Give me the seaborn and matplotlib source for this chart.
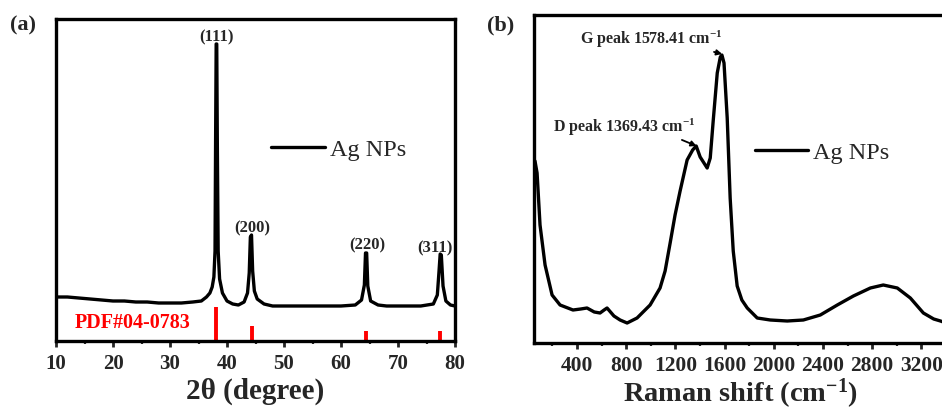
import matplotlib
matplotlib.use("Agg")
import matplotlib.pyplot as plt
import seaborn as sns
from matplotlib.ticker import MultipleLocator

# ---------------- data ----------------
# (a) XRD pattern
two_theta = [10, 12, 14, 16, 18, 20, 22, 24, 26, 28, 30, 32, 34, 35.5, 36.4, 37.0, 37.4, 37.7,
             37.9, 38.0, 38.1, 38.2, 38.3, 38.45, 38.7, 39.2, 40.0, 41.0, 42.0, 43.0, 43.6,
             43.9, 44.1, 44.3, 44.5, 44.8, 45.3, 46.5, 48, 50, 52, 55, 58, 60, 62.5, 63.6, 64.1,
             64.3, 64.5, 64.7, 65.2, 66.5, 68, 70, 72, 74, 76.2, 76.9, 77.2, 77.4, 77.6, 77.9,
             78.4, 79.2, 80]
xrd_int = [44, 44, 43, 42, 41, 40, 40, 39, 39, 38, 38, 38, 39, 40, 44, 48, 54, 64,
           90, 200, 297, 297, 200, 90, 62, 48, 40, 37, 36, 39, 48,
           68, 104, 106, 70, 50, 42, 37, 35, 35, 35, 35, 35, 35, 36, 41, 56,
           88, 88, 55, 40, 36, 35, 35, 35, 35, 37, 46, 70, 87, 86, 55,
           40, 36, 35]
ref_pos = [38.1, 44.3, 64.4, 77.4]
ref_height = [34, 15, 10, 10]
hkl_labels = ["(111)", "(200)", "(220)", "(311)"]
hkl_x = [38.1, 44.4, 64.7, 76.5]
hkl_y = [305, 114, 97, 94]

# (b) Raman spectrum
raman_shift = [58, 75, 99, 140, 197, 262, 367, 430, 481, 540, 587, 620, 644, 700, 750, 807,
               888, 994, 1075, 1116, 1157, 1197, 1238, 1295, 1340, 1369, 1401, 1458, 1483,
               1507, 1540, 1565, 1578, 1595, 1621, 1645, 1670, 1702, 1740, 1784, 1865, 1971,
               2109, 2240, 2378, 2516, 2647, 2785, 2890, 3004, 3110, 3216, 3300, 3355, 3400]
raman_int = [182, 170, 118, 78, 48, 38, 33, 34, 35, 31, 30, 33, 35, 27, 23, 20,
             25, 38, 55, 72, 100, 128, 152, 183, 193, 197, 186, 175, 185,
             222, 270, 286, 288, 280, 225, 145, 92, 57, 43, 35, 25, 23,
             22, 23, 28, 38, 47, 55, 58, 55, 45, 30, 24, 22, 20]
raman_ticks = [400, 800, 1200, 1600, 2000, 2400, 2800, 3200]

# ---------------- style ----------------
sns.set_style("ticks")
plt.rcParams['font.family'] = ['Liberation Serif', 'DejaVu Serif']
plt.rcParams['mathtext.fontset'] = 'custom'
plt.rcParams['mathtext.rm'] = 'Liberation Serif:bold'
plt.rcParams['mathtext.it'] = 'Liberation Serif:bold'
plt.rcParams['mathtext.bf'] = 'Liberation Serif:bold'

W, H = 942, 410
fig = plt.figure(figsize=(W / 100, H / 100), dpi=100)

ax1 = fig.add_axes([56 / W, (H - 342) / H, 399 / W, 322 / H])
ax2 = fig.add_axes([534 / W, (H - 344) / H, 412 / W, 328 / H])

for ax, tsize in ((ax1, 15), (ax2, 15.5)):
    for s in ax.spines.values():
        s.set_linewidth(2.4)
        s.set_color('black')
    ax.set_yticks([])
    ax.tick_params(axis='x', which='major', direction='out', length=4, width=2,
                   labelsize=tsize, pad=5)
    ax.tick_params(axis='x', which='minor', direction='out', length=2.5, width=1.6)

# ---- panel (a)
sns.lineplot(x=two_theta, y=xrd_int, ax=ax1, color='black', lw=2.4, label='Ag NPs')
ax1.vlines(ref_pos, 0, ref_height, color='red', lw=2.8)
ax1.set_xlim(10, 80)
ax1.set_ylim(0, 322)
ax1.xaxis.set_major_locator(MultipleLocator(10))
ax1.xaxis.set_minor_locator(MultipleLocator(5))
for lab, xx, yy in zip(hkl_labels, hkl_x, hkl_y):
    ax1.text(xx, yy, lab, ha='center', va='center', fontsize=12, fontweight='bold')
ax1.text(13.2, 19, "PDF#04-0783", color='red', fontsize=14.5, fontweight='bold',
         ha='left', va='center')
ax1.set_xlabel("2θ (degree)", fontsize=21, fontweight='bold', labelpad=2)
ax1.set_ylabel("Intensity (a.u.)", fontsize=21, fontweight='bold', labelpad=9)
ax1.legend(loc='center left', bbox_to_anchor=(0.54, 0.596), frameon=False,
           fontsize=17.5, handlelength=2.2, handletextpad=0.2, borderpad=0,
           borderaxespad=0)
fig.text(10 / W, 1 - 25 / H, "(a)", fontsize=16, fontweight='bold', va='center')

# ---- panel (b)
sns.lineplot(x=raman_shift, y=raman_int, ax=ax2, color='black', lw=2.4, label='Ag NPs')
ax2.set_xlim(50, 3400)
ax2.set_ylim(0, 328)
ax2.set_xticks(raman_ticks)
ax2.xaxis.set_minor_locator(MultipleLocator(200))
ax2.annotate("G peak 1578.41 cm$^{-1}$", xy=(1580, 289), xytext=(1002, 305),
             ha='center', va='center', fontsize=11.5, fontweight='bold',
             arrowprops=dict(arrowstyle='-|>', color='black', lw=1.3,
                             mutation_scale=8, shrinkA=0, shrinkB=0,
                             relpos=(0.85, 0.0)))
ax2.annotate("D peak 1369.43 cm$^{-1}$", xy=(1372, 197), xytext=(783, 217),
             ha='center', va='center', fontsize=11.5, fontweight='bold',
             arrowprops=dict(arrowstyle='-|>', color='black', lw=1.3,
                             mutation_scale=8, shrinkA=0, shrinkB=0,
                             relpos=(0.85, 0.0)))
ax2.set_xlabel("Raman shift (cm$^{-1}$)", fontsize=20.5, fontweight='bold', labelpad=0.5)
ax2.set_ylabel("Intensity (a.u.)", fontsize=21, fontweight='bold', labelpad=8)
ax2.legend(loc='center left', bbox_to_anchor=(0.536, 0.582), frameon=False,
           fontsize=17.5, handlelength=2.2, handletextpad=0.2, borderpad=0,
           borderaxespad=0)
fig.text(487 / W, 1 - 25 / H, "(b)", fontsize=16, fontweight='bold', va='center')

for ax in (ax1, ax2):
    for lab in ax.get_xticklabels():
        lab.set_fontweight('bold')

fig.savefig("out.png", dpi=100)
